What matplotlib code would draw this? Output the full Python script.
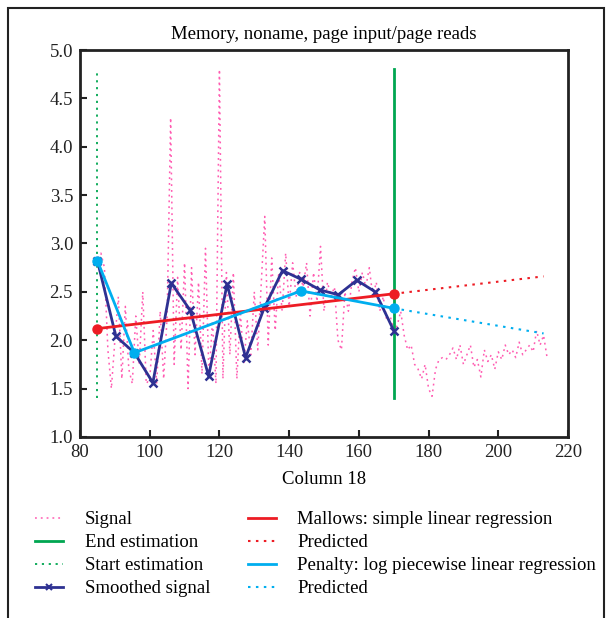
import numpy as np
import matplotlib
matplotlib.use("Agg")
import matplotlib.pyplot as plt
from matplotlib.lines import Line2D
from matplotlib.patches import Rectangle

plt.rcParams['font.family'] = ['Liberation Serif', 'DejaVu Serif']
plt.rcParams['font.size'] = 13.5

# raw signal, one sample per column value
sig_x = np.arange(85, 215)
sig_y = [2.85, 2.9, 2.75, 1.9, 1.5, 2.0, 2.45, 1.6, 2.35, 1.7,
         1.55, 2.25, 1.75, 2.5, 1.55, 1.6, 2.1, 1.55, 2.3, 1.6,
         2.25, 4.3, 1.75, 2.65, 1.9, 2.8, 1.5, 2.75, 1.85, 2.6,
         1.65, 2.95, 1.6, 2.2, 1.55, 4.8, 1.6, 2.7, 1.85, 2.7,
         1.6, 2.3, 1.75, 2.2, 1.85, 2.5, 1.9, 2.6, 3.28, 1.95,
         2.85, 2.1, 2.7, 2.3, 2.9, 2.35, 2.8, 2.45, 2.7, 2.55,
         2.8, 2.25, 2.7, 2.4, 2.97, 2.3, 2.6, 2.45, 2.55, 2.0,
         1.9, 2.5, 2.3, 2.6, 2.75, 2.5, 2.7, 2.55, 2.75, 2.45,
         2.6, 2.3, 2.45, 2.2, 2.25, 2.1, 2.15, 2.3, 2.05, 1.9,
         1.95, 1.75, 1.7, 1.6, 1.75, 1.5, 1.42, 1.7, 1.8, 1.82,
         1.8, 1.85, 1.92, 1.8, 1.95, 1.75, 1.85, 1.95, 1.72, 1.8,
         1.62, 1.9, 1.78, 1.85, 1.7, 1.88, 1.8, 1.95, 1.85, 1.9,
         1.82, 1.98, 1.85, 1.9, 1.95, 1.88, 2.1, 1.95, 2.05, 1.82]

smooth_x = [85, 90.3, 95.6, 100.9, 106.2, 111.6, 116.9, 122.2, 127.5,
            132.8, 138.1, 143.4, 148.8, 154.1, 159.4, 164.7, 170]
smooth_y = [2.82, 2.04, 1.87, 1.56, 2.59, 2.31, 1.63, 2.58, 1.82,
            2.33, 2.72, 2.63, 2.52, 2.47, 2.62, 2.50, 2.10]

start_est = 85
end_est = 170
est_ymin, est_ymax = 1.4, 4.8

mallows_x = [85, 170]
mallows_y = [2.12, 2.48]
mallows_pred_x = [170, 213]
mallows_pred_y = [2.48, 2.66]

penalty_x = [85, 95.6, 143.4, 170]
penalty_y = [2.82, 1.87, 2.51, 2.33]
penalty_pred_x = [170, 213]
penalty_pred_y = [2.33, 2.07]

c_sig = '#ff3fa4'
c_green = '#00a651'
c_navy = '#2e3192'
c_red = '#ed1c24'
c_cyan = '#00aeef'
dots = (0, (1.2, 2.6))

fig = plt.figure(figsize=(6.08, 6.18), dpi=100)
ax = fig.add_axes([0.1316, 0.293, 0.8026, 0.626])

ax.plot(sig_x, sig_y, linestyle=dots, color=c_sig, lw=1.1, alpha=0.85, label='Signal')
ax.plot([end_est, end_est], [est_ymin, est_ymax], '-', color=c_green, lw=2, label='End estimation')
ax.plot([start_est, start_est], [est_ymin, est_ymax], linestyle=dots, color=c_green, lw=1.3,
        label='Start estimation')
ax.plot(smooth_x, smooth_y, '-', color=c_navy, lw=2, marker='x', ms=6, mew=1.8,
        label='Smoothed signal')
ax.plot(mallows_x, mallows_y, '-', color=c_red, lw=2, label='Mallows: simple linear regression')
ax.plot(mallows_pred_x, mallows_pred_y, linestyle=dots, color=c_red, lw=1.5, label='Predicted')
ax.plot(penalty_x, penalty_y, '-', color=c_cyan, lw=2, label='Penalty: log piecewise linear regression')
ax.plot(penalty_pred_x, penalty_pred_y, linestyle=dots, color=c_cyan, lw=1.5, label='Predicted')
ax.plot(mallows_x, mallows_y, 'o', color=c_red, ms=6.5)
ax.plot(penalty_x, penalty_y, 'o', color=c_cyan, ms=6.5)

ax.set_xlim(80, 220)
ax.set_ylim(1.0, 5.0)
ax.set_xticks(np.arange(80, 221, 20))
ax.set_yticks(np.arange(1.0, 5.01, 0.5))
ax.yaxis.set_major_formatter(matplotlib.ticker.FormatStrFormatter('%.1f'))
ax.tick_params(direction='in', length=5, width=1.5, labelsize=13.5, colors='#222222', pad=5)
for s in ax.spines.values():
    s.set_linewidth(2)
    s.set_color('#222222')

ax.set_title('Memory, noname, page input/page reads', fontsize=13.5, pad=8)
ax.set_xlabel('Column 18', fontsize=13.5, labelpad=7)

handles, labels = ax.get_legend_handles_labels()
handles[3] = Line2D([0, 0.5, 1], [0, 0, 0], color=c_navy, lw=2, marker='x', ms=4, mew=1.5, markevery=[1])
fig.legend(handles, labels, loc='upper left', bbox_to_anchor=(0.045, 0.185), ncol=2,
           frameon=False, fontsize=13.5, handlelength=1.5, handletextpad=1.15,
           columnspacing=2.0, labelspacing=0.31, borderaxespad=0)

fig.patches.append(Rectangle((8 / 608, -0.01), 596 / 608, 1 - 8 / 618 + 0.01, transform=fig.transFigure,
                             fill=False, edgecolor='#222222', lw=1.5))

fig.savefig('out.png', dpi=100)
